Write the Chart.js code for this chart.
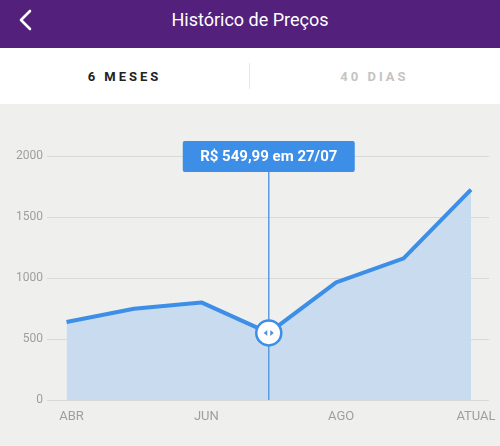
<!DOCTYPE html>
<html>
<head>
<meta charset="utf-8">
<script src="https://cdn.jsdelivr.net/npm/chart.js@4"></script>
<style>
  html, body { margin: 0; padding: 0; width: 500px; height: 446px; overflow: hidden; font-family: Roboto, sans-serif; }
  .top { position: absolute; left: 0; top: 0; width: 500px; height: 48px; background: #53207b; }
  .top h1 { margin: 0; font-size: 18px; font-weight: 400; color: #fff; text-align: center; line-height: 40px; }
  .top svg { position: absolute; left: 18px; top: 9px; }
  .tabs { position: absolute; left: 0; top: 48px; width: 500px; height: 56px; background: #fff; }
  .tab { position: absolute; top: 0; width: 249px; line-height: 58px; text-align: center; font-size: 13px; font-weight: 700; letter-spacing: 3px; }
  .tab.on { left: 0; color: #222; }
  .tab.off { left: 250px; color: #c4c4c4; }
  .sep { position: absolute; left: 249px; top: 15px; width: 1px; height: 26px; background: #e6e6e6; }
  .chart-wrap { position: absolute; left: 0; top: 104px; width: 500px; height: 342px; background: #eff0ee; }
</style>
</head>
<body>
<div class="top">
  <svg width="16" height="22" viewBox="0 0 16 22"><polyline points="12,2 3,11 12,20" fill="none" stroke="#fff" stroke-width="2.6" stroke-linecap="round" stroke-linejoin="round"/></svg>
  <h1>Histórico de Preços</h1>
</div>
<div class="tabs">
  <div class="tab on">6 MESES</div>
  <div class="sep"></div>
  <div class="tab off">40 DIAS</div>
</div>
<div class="chart-wrap"><canvas id="chart" width="500" height="342"></canvas></div>
<script>
const months = ['ABR', '', 'JUN', '', 'AGO', '', 'ATUAL'];
const prices = [639, 748, 800, 549.99, 964, 1161, 1724];
const yTicks = [0, 500, 1000, 1500, 2000];
const selectedIndex = 3;
const selectedLabel = 'R$ 549,99 em 27/07';

const BLUE = '#3d8ee6';

const selectionPlugin = {
  id: 'selection',
  afterDatasetsDraw(chart) {
    const { ctx, chartArea, scales } = chart;
    const x = scales.x.getPixelForValue(selectedIndex);
    const y = scales.y.getPixelForValue(prices[selectedIndex]);
    const boxW = 172, boxH = 31, boxTop = 37;

    ctx.save();
    // vertical guide
    ctx.strokeStyle = '#5b9be3';
    ctx.lineWidth = 1.5;
    ctx.beginPath();
    ctx.moveTo(x, boxTop + boxH);
    ctx.lineTo(x, chartArea.bottom);
    ctx.stroke();

    // label box
    ctx.fillStyle = BLUE;
    ctx.beginPath();
    ctx.roundRect(x - boxW / 2, boxTop, boxW, boxH, 2);
    ctx.fill();
    ctx.fillStyle = '#fff';
    ctx.font = 'bold 15px Roboto';
    ctx.textAlign = 'center';
    ctx.textBaseline = 'middle';
    ctx.fillText(selectedLabel, x, boxTop + boxH / 2 + 1);

    // handle
    ctx.beginPath();
    ctx.arc(x, y, 12.5, 0, Math.PI * 2);
    ctx.fillStyle = '#fff';
    ctx.fill();
    ctx.lineWidth = 2.5;
    ctx.strokeStyle = BLUE;
    ctx.stroke();
    ctx.fillStyle = '#5a8fcf';
    ctx.beginPath();
    ctx.moveTo(x - 1.5, y - 3); ctx.lineTo(x - 5, y); ctx.lineTo(x - 1.5, y + 3);
    ctx.closePath();
    ctx.fill();
    ctx.beginPath();
    ctx.moveTo(x + 1.5, y - 3); ctx.lineTo(x + 5, y); ctx.lineTo(x + 1.5, y + 3);
    ctx.closePath();
    ctx.fill();
    ctx.restore();
  }
};

new Chart(document.getElementById('chart'), {
  type: 'line',
  data: {
    datasets: [{
      data: prices.map((v, i) => ({ x: i, y: v })),
      borderColor: BLUE,
      borderWidth: 4,
      backgroundColor: '#c9dcef',
      fill: 'origin',
      pointRadius: 0,
      tension: 0,
      borderJoinStyle: 'round',
    }],
  },
  options: {
    responsive: false,
    animation: false,
    layout: { padding: { top: 52, right: 10, left: 0, bottom: 0 } },
    plugins: { legend: { display: false }, tooltip: { enabled: false } },
    scales: {
      x: {
        type: 'linear',
        min: -0.29,
        max: 6.27,
        grid: { display: false, drawTicks: false },
        border: { display: false },
        afterBuildTicks: (axis) => { axis.ticks = months.map((m, i) => ({ value: i })).filter((t) => months[t.value]); },
        afterFit: (axis) => { axis.height = 46; },
        ticks: {
          callback: (v) => months[v] || '',
          color: '#9e9e9e',
          font: { family: 'Roboto', size: 13 },
          padding: 9,
          labelOffset: 5,
          maxRotation: 0,
          autoSkip: false,
        },
      },
      y: {
        min: 0,
        max: 2000,
        grid: { color: '#d9dad8', lineWidth: 1, drawTicks: false },
        border: { display: false },
        afterBuildTicks: (axis) => { axis.ticks = yTicks.map((v) => ({ value: v })); },
        afterFit: (axis) => { axis.width = 47; },
        ticks: {
          callback: (v) => String(v),
          color: '#9e9e9e',
          font: { family: 'Roboto', size: 12 },
          padding: 4,
        },
      },
    },
  },
  plugins: [selectionPlugin],
});
</script>
</body>
</html>
